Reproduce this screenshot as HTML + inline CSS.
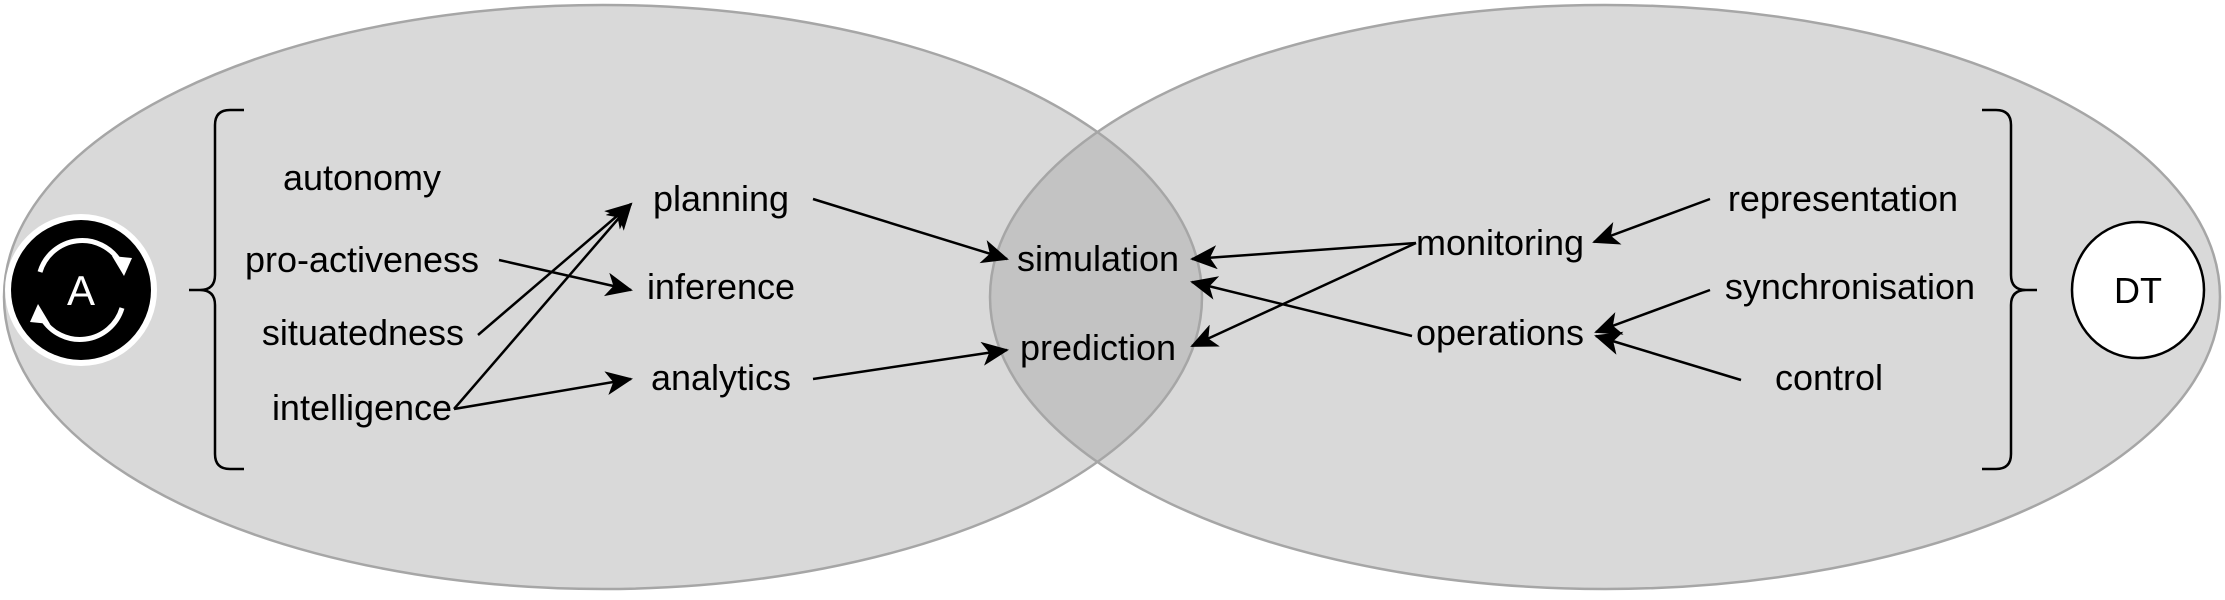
<!DOCTYPE html>
<html><head><meta charset="utf-8"><style>
html,body{margin:0;padding:0;background:#fff;}
svg{display:block;}
text{font-family:"Liberation Sans",Arial,sans-serif;font-size:36px;fill:#000;}
</style></head><body>
<svg width="2225" height="600" viewBox="0 0 2225 600" xmlns="http://www.w3.org/2000/svg">
<defs>
<marker id="ah" markerUnits="userSpaceOnUse" markerWidth="34" markerHeight="34" refX="25" refY="12" orient="auto">
<path d="M0,0 L27,12 L0,24 L7,12 Z" fill="#000"/>
</marker>
<clipPath id="cl"><ellipse cx="603" cy="297" rx="599" ry="292"/></clipPath>
</defs>
<ellipse cx="603" cy="297" rx="599" ry="292" fill="#d9d9d9"/>
<ellipse cx="1605" cy="297" rx="615" ry="292" fill="#d9d9d9"/>
<ellipse cx="1605" cy="297" rx="615" ry="292" fill="#c3c3c3" clip-path="url(#cl)"/>
<ellipse cx="603" cy="297" rx="599" ry="292" fill="none" stroke="#a6a6a6" stroke-width="2.5"/>
<ellipse cx="1605" cy="297" rx="615" ry="292" fill="none" stroke="#a6a6a6" stroke-width="2.5"/>

<!-- A icon -->
<circle cx="81" cy="290" r="76" fill="#fff"/>
<circle cx="81" cy="290" r="70" fill="#000"/>
<path d="M40,272 A44,44 0 0 1 120,262" fill="none" stroke="#fff" stroke-width="5"/>
<path d="M112,256 L132,258 L124,276 Z" fill="#fff"/>
<path d="M122,308 A44,44 0 0 1 42,318" fill="none" stroke="#fff" stroke-width="5"/>
<path d="M50,324 L30,322 L38,304 Z" fill="#fff"/>
<text x="81" y="305" text-anchor="middle" style="fill:#fff;font-size:42px">A</text>

<!-- DT -->
<ellipse cx="2138" cy="290" rx="66" ry="68" fill="#fff" stroke="#000" stroke-width="2.5"/>
<text x="2138" y="303" text-anchor="middle">DT</text>

<!-- braces -->
<path d="M244,110 H230 Q215,110 215,125 V275 Q215,290 200,290 H189 M200,290 Q215,290 215,305 V454 Q215,469 230,469 H244" fill="none" stroke="#000" stroke-width="2.5"/>
<path d="M1982,110 H1996 Q2011,110 2011,125 V275 Q2011,290 2026,290 H2037 M2026,290 Q2011,290 2011,305 V454 Q2011,469 1996,469 H1982" fill="none" stroke="#000" stroke-width="2.5"/>

<!-- labels -->
<g text-anchor="middle">
<text x="362" y="190">autonomy</text>
<text x="362" y="272">pro-activeness</text>
<text x="363" y="345">situatedness</text>
<text x="362" y="420">intelligence</text>
<text x="721" y="211">planning</text>
<text x="721" y="299">inference</text>
<text x="721" y="390">analytics</text>
<text x="1098" y="271">simulation</text>
<text x="1098" y="360">prediction</text>
<text x="1500" y="255">monitoring</text>
<text x="1500" y="345">operations</text>
<text x="1843" y="211">representation</text>
<text x="1850" y="299">synchronisation</text>
<text x="1829" y="390">control</text>
</g>

<!-- arrows -->
<g stroke="#000" stroke-width="2.5" fill="none" marker-end="url(#ah)">
<line x1="499" y1="260" x2="631" y2="290"/>
<line x1="478" y1="335" x2="631" y2="204"/>
<line x1="454" y1="409" x2="631" y2="204"/>
<line x1="454" y1="409" x2="631" y2="379"/>
<line x1="813" y1="199" x2="1007" y2="259"/>
<line x1="813" y1="379" x2="1007" y2="350"/>
<line x1="1416" y1="243" x2="1192" y2="259"/>
<line x1="1416" y1="243" x2="1192" y2="346"/>
<line x1="1412" y1="336" x2="1192" y2="282"/>
<line x1="1710" y1="199" x2="1594" y2="242"/>
<line x1="1710" y1="290" x2="1596" y2="332"/>
<line x1="1741" y1="380" x2="1596" y2="336"/>
</g>
</svg>
</body></html>
